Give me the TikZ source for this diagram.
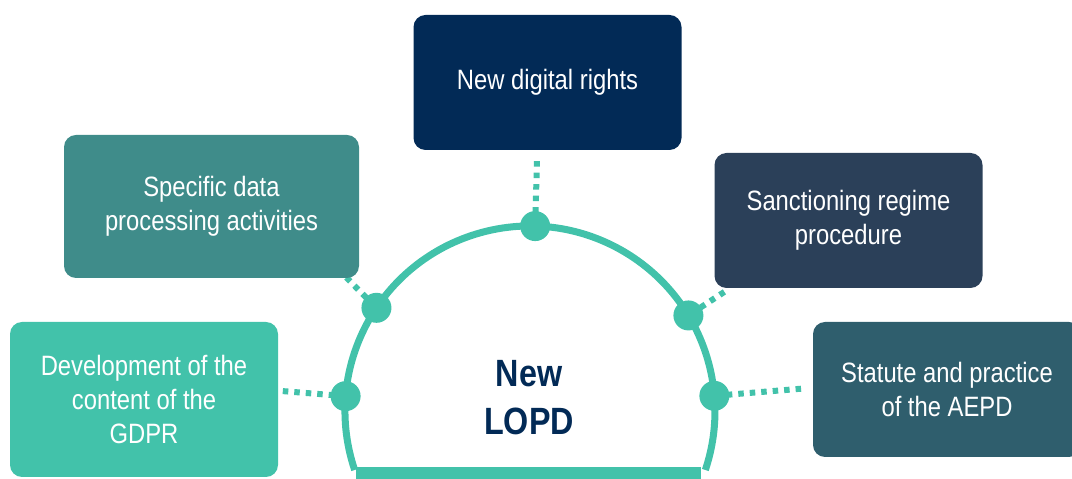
\documentclass[tikz,border=0pt]{standalone}
\usepackage{fontspec}
\setmainfont[FakeStretch=0.85]{Liberation Sans}

\definecolor{lopdteal}{HTML}{42C2AA}
\definecolor{lopdnavy}{HTML}{022A56}
\definecolor{rightsblue}{HTML}{022A56}
\definecolor{specificteal}{HTML}{3F8C8A}
\definecolor{sanctionslate}{HTML}{2B4059}
\definecolor{aepdpetrol}{HTML}{2F5E6D}

\begin{document}
\begin{tikzpicture}[x=1pt,y=1pt,
        box/.style={rectangle,rounded corners=12pt,text=white,align=center,
            minimum width=268pt,minimum height=135pt,font=\fontsize{28}{34}\selectfont},
        link/.style={draw=lopdteal,line width=6pt,dash pattern=on 5.5pt off 6pt},
        knob/.style={circle,fill=lopdteal,minimum size=30pt,inner sep=0pt}]
                    \useasboundingbox (0,0) rectangle (1072,479);
                    \clip (0,0) rectangle (1072,479);

                    % points on the dome and the far ends of the dotted links
                    \begin{scope}[shift={(530,68)}]
                        \coordinate (dome) at (0,0);
                        \coordinate (T) at (88.4:185);  \coordinate (T end) at (88.4:250);
                        \coordinate (UL) at (146.1:185); \coordinate (UL end) at (144:227);
                        \coordinate (UR) at (31.1:185);  \coordinate (UR end) at (31.5:228);
                        \coordinate (LL) at (175.4:185); \coordinate (LL end) at (175.4:248);
                        \coordinate (LR) at (4.7:185);   \coordinate (LR end) at (4.7:272);
                    \end{scope}

                    \draw[link] (T end) -- (T);
                    \draw[link] (UL end) -- (UL);
                    \draw[link] (UR end) -- (UR);
                    \draw[link] (LL end) -- (LL);
                    \draw[link] (LR end) -- (LR);

                    \node[box,fill=rightsblue] (rights node) at (547.5,396.5) {New digital rights};
                    \node[box,fill=specificteal,minimum width=295pt,minimum height=143pt]
                        (specific node) at (211.5,272.5) {Specific data\\processing activities};
                    \node[box,fill=sanctionslate] (sanction node) at (848.5,258.5) {Sanctioning regime\\procedure};
                    \node[box,fill=lopdteal,minimum height=155pt]
                        (gdpr node) at (144,79.5) {Development of the\\content of the\\GDPR};
                    \node[box,fill=aepdpetrol] (aepd node) at (947,89.5) {Statute and practice\\of the AEPD};

                    % the dome
                    \draw[lopdteal,line width=7pt] ([shift={(198.6:185)}]dome) arc[start angle=198.6,end angle=-18.6,radius=185];
                    \draw[lopdteal,line width=12pt] (356,6) -- (701,6);

                    \node[knob] (T knob) at (T) {};
                    \node[knob] (UL knob) at (UL) {};
                    \node[knob] (UR knob) at (UR) {};
                    \node[knob] (LL knob) at (LL) {};
                    \node[knob] (LR knob) at (LR) {};

                    \node[text=lopdnavy,align=center,font=\bfseries\fontsize{38}{48}\selectfont]
                        (lopd node) at (529,81) {New\\LOPD};

                \end{tikzpicture}
\end{document}
